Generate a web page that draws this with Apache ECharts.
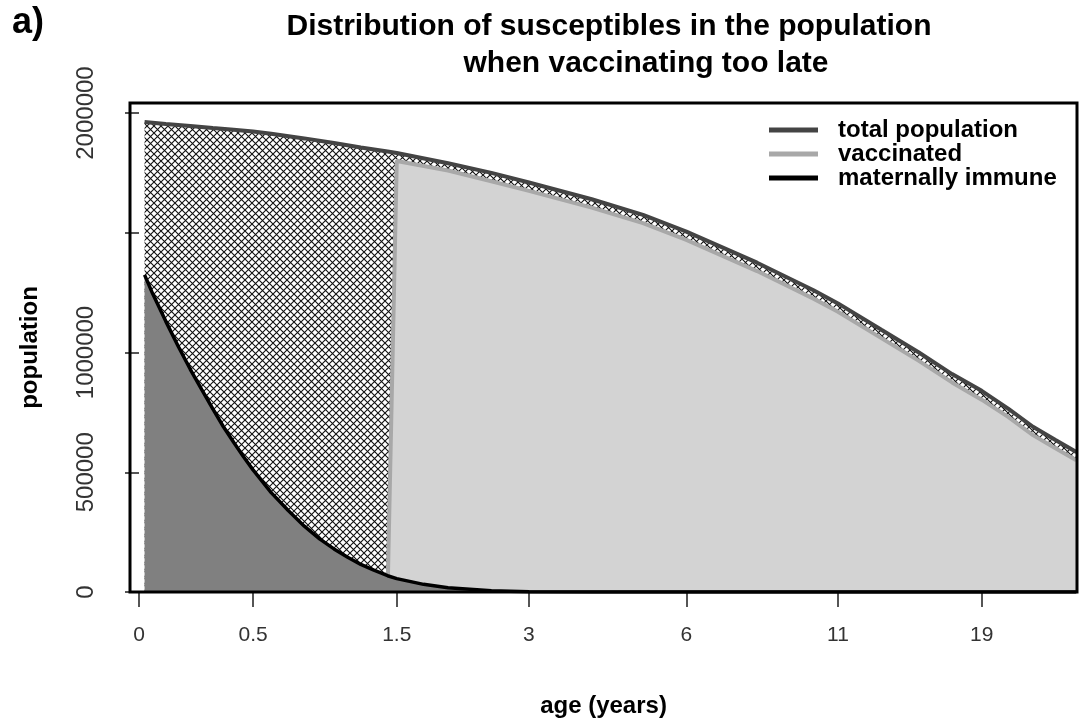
<!DOCTYPE html>
<html><head><meta charset="utf-8">
<script src="https://cdn.jsdelivr.net/npm/echarts@6/dist/echarts.min.js"></script>
<style>html,body{margin:0;padding:0;background:#fff}#c{width:1079px;height:721px}</style>
</head><body><div id="c"></div>
<script>
// ---- data ----
const ages = [0.02, 0.1, 0.2, 0.3, 0.4, 0.5, 0.6, 0.8, 1.0, 1.2, 1.42, 1.5, 2, 2.5, 3, 4, 5, 6, 8, 10, 11, 13, 15, 17, 19, 21, 23, 25, 27];
const totalPopulation = [1962000, 1954000, 1946000, 1937000, 1930000, 1923000, 1913000, 1894000, 1875000, 1856000, 1839000, 1833000, 1790000, 1750000, 1710000, 1640000, 1575000, 1505000, 1375000, 1260000, 1205000, 1095000, 1000000, 910000, 840000, 765000, 690000, 635000, 585000];
const matAges = [0.02, 0.05, 0.1, 0.15, 0.2, 0.25, 0.3, 0.35, 0.4, 0.45, 0.5, 0.6, 0.7, 0.8, 0.9, 1.0, 1.1, 1.2, 1.3, 1.42, 1.5, 1.75, 2, 2.5, 3, 4, 27];
const maternallyImmune = [1324000, 1245000, 1130000, 1025000, 930000, 845000, 765000, 690000, 625000, 565000, 510000, 415000, 340000, 275000, 222000, 180000, 145000, 115000, 92000, 68000, 56000, 32000, 18000, 5000, 1000, 0, 0];
const vaccAges = [1.42, 1.5, 2, 2.5, 3, 4, 5, 6, 8, 10, 11, 13, 15, 17, 19, 21, 23, 25, 27];
const vaccinated = [0, 1800000, 1760000, 1715000, 1675000, 1605000, 1540000, 1470000, 1340000, 1225000, 1170000, 1060000, 965000, 875000, 803000, 730000, 655000, 600000, 550000];
const xTickAges = [0, 0.5, 1.5, 3, 6, 11, 19];
const yTickValues = [0, 500000, 1000000, 1500000, 2000000];
const yLabelValues = [0, 500000, 1000000, 2000000];
const seriesNames = ['total population', 'vaccinated', 'maternally immune'];

// x axis is drawn on a log(1 + age) scale
function tx(a) { return Math.log(1 + a); }

// cross-hatch pattern
const P = 7;
const pc = document.createElement('canvas');
pc.width = P; pc.height = P;
const g = pc.getContext('2d');
g.fillStyle = '#fff'; g.fillRect(0, 0, P, P);
g.strokeStyle = '#111'; g.lineWidth = 1.1;
g.beginPath();
g.moveTo(-1, -1); g.lineTo(P + 1, P + 1);
g.moveTo(P + 1, -1); g.lineTo(-1, P + 1);
g.stroke();

const FONT = '"Liberation Sans", Arial, Helvetica, sans-serif';
const chart = echarts.init(document.getElementById('c'));
const xTicks = xTickAges.map(tx);

chart.setOption({
  animation: false,
  backgroundColor: '#fff',
  textStyle: { fontFamily: FONT },
  title: [
    { text: 'a)', left: 7, top: 0, textStyle: { fontSize: 36, fontWeight: 'bold', color: '#000', fontFamily: FONT } },
    { text: 'Distribution of susceptibles in the population', left: 604, top: 7, textAlign: 'center',
      textStyle: { fontSize: 30, fontWeight: 'bold', color: '#000', fontFamily: FONT } },
    { text: 'when vaccinating too late', left: 641, top: 44, textAlign: 'center',
      textStyle: { fontSize: 30, fontWeight: 'bold', color: '#000', fontFamily: FONT } }
  ],
  legend: {
    orient: 'vertical', left: 769, top: 118, padding: 0, itemWidth: 49, itemHeight: 5, itemGap: 0, icon: 'rect',
    textStyle: { fontSize: 24, fontWeight: 'bold', color: '#000', fontFamily: FONT, lineHeight: 24, padding: [0, 0, 0, 15] },
    data: [
      { name: seriesNames[0], itemStyle: { color: '#444' } },
      { name: seriesNames[1], itemStyle: { color: '#a8a8a8' } },
      { name: seriesNames[2], itemStyle: { color: '#000' } }
    ]
  },
  grid: { left: 130, top: 103, width: 947, height: 489, show: false, outerBoundsMode: 'none' },
  xAxis: {
    type: 'value', min: -0.032, max: 3.3346,
    splitLine: { show: false }, axisLine: { show: false },
    axisTick: { show: true, customValues: xTicks, length: 15, lineStyle: { color: '#555', width: 2 } },
    axisLabel: {
      customValues: xTicks, fontSize: 21, color: '#333', margin: 33, fontFamily: FONT,
      formatter: function (v) {
        for (let i = 0; i < xTicks.length; i++) if (Math.abs(xTicks[i] - v) < 1e-6) return String(xTickAges[i]);
        return '';
      }
    },
    name: 'age (years)', nameLocation: 'middle', nameGap: 102,
    nameTextStyle: { fontSize: 24, fontWeight: 'bold', color: '#000', fontFamily: FONT }
  },
  yAxis: {
    type: 'value', min: 0, max: 2041800,
    splitLine: { show: false }, axisLine: { show: false },
    axisTick: { show: true, customValues: yTickValues, length: 14, lineStyle: { color: '#555', width: 2 } },
    axisLabel: { customValues: yLabelValues, rotate: 90, fontSize: 24, color: '#333', margin: 32, fontFamily: FONT,
      formatter: function (v) { return String(v); } },
    name: 'population', nameLocation: 'middle', nameGap: 88,
    nameTextStyle: { fontSize: 24, fontWeight: 'bold', color: '#000', fontFamily: FONT }
  },
  graphic: [{
    type: 'rect', z: 100, silent: true,
    shape: { x: 130, y: 103, width: 947, height: 489 },
    style: { fill: null, stroke: '#000', lineWidth: 3 }
  }],
  series: [
    { name: seriesNames[0], type: 'line', z: 1, showSymbol: false, symbol: 'none',
      data: ages.map((a, i) => [tx(a), totalPopulation[i]]),
      lineStyle: { color: '#444', width: 4 }, itemStyle: { color: '#444' },
      areaStyle: { color: { image: pc, repeat: 'repeat' }, opacity: 1 } },
    { name: seriesNames[1], type: 'line', z: 2, showSymbol: false, symbol: 'none',
      data: vaccAges.map((a, i) => [tx(a), vaccinated[i]]),
      lineStyle: { color: '#a8a8a8', width: 4 }, itemStyle: { color: '#a8a8a8' },
      areaStyle: { color: '#d3d3d3', opacity: 1 } },
    { name: seriesNames[2], type: 'line', z: 3, showSymbol: false, symbol: 'none',
      data: matAges.map((a, i) => [tx(a), maternallyImmune[i]]),
      lineStyle: { color: '#000', width: 3.5 }, itemStyle: { color: '#000' },
      areaStyle: { color: '#808080', opacity: 1 } }
  ]
});
</script>
</body></html>
